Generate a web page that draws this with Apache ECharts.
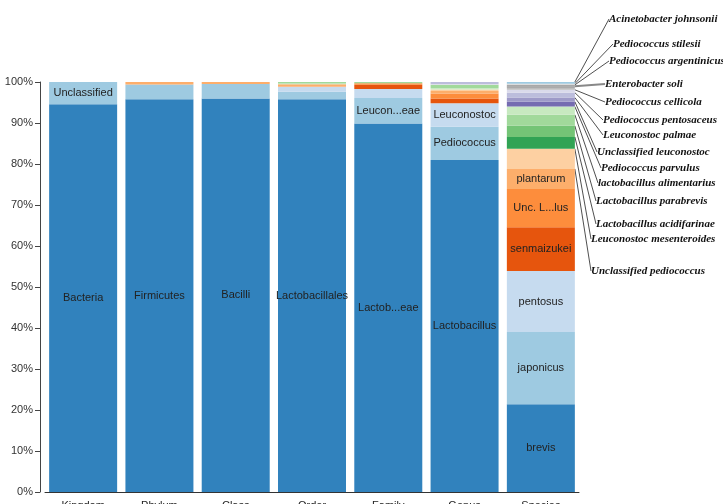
<!DOCTYPE html>
<html>
<head>
<meta charset="utf-8">
<script src="https://cdn.jsdelivr.net/npm/echarts@6/dist/echarts.min.js"></script>
<style>
  html, body { margin: 0; padding: 0; background: #fff; }
  #main { width: 723px; height: 504px; }
</style>
</head>
<body>
<div id="main"></div>
<script>
// taxonomy levels (x axis)
var categories = ["Kingdom", "Phylum", "Class", "Order", "Family", "Genus", "Species"];

// each level: segment names / relative abundance (%), bottom to top
// an empty name means the segment is not labelled
var kingdomNames = ["Bacteria", "Unclassified"];
var kingdomValues = [94.6, 5.4];

var phylumNames = ["Firmicutes", "", ""];
var phylumValues = [95.8, 3.6, 0.6];

var classNames = ["Bacilli", "", ""];
var classValues = [96.0, 3.5, 0.5];

var orderNames = ["Lactobacillales", "", "", "", "", ""];
var orderValues = [95.8, 1.85, 1.2, 0.6, 0.2, 0.35];

var familyNames = ["Lactob...eae", "Leucon...eae", "", "", "", ""];
var familyValues = [89.9, 6.2, 2.2, 1.0, 0.4, 0.3];

var genusNames = ["Lactobacillus", "Pediococcus", "Leuconostoc", "", "", "", "", "", "", "", ""];
var genusValues = [81.0, 8.1, 5.7, 1.2, 1.2, 0.6, 0.4, 0.3, 0.8, 0.2, 0.5];

var speciesNames = ["brevis", "japonicus", "pentosus", "senmaizukei", "Unc. L...lus", "plantarum",
  "Unclassified pediococcus", "Leuconostoc mesenteroides", "Lactobacillus acidifarinae",
  "Lactobacillus parabrevis", "lactobacillus alimentarius", "Pediococcus parvulus",
  "Unclassified leuconostoc", "Leuconostoc palmae", "Pediococcus pentosaceus",
  "Pediococcus cellicola", "Enterobacter soli", "Pediococcus argentinicus",
  "Pediococcus stilesii", "Acinetobacter johnsonii"];
var speciesValues = [21.4, 17.6, 14.9, 10.7, 9.3, 4.9, 4.9, 2.9, 2.7, 2.7, 2.0, 1.2, 1.0, 1.2,
  0.7, 0.5, 0.35, 0.35, 0.3, 0.4];
// species from this index on are labelled outside the bar
var speciesOutsideFrom = 6;

var yTicks = [0, 10, 20, 30, 40, 50, 60, 70, 80, 90, 100];

// ---- styles ----
var kingdomColors = ["#3182bd", "#9ecae1"];
var phylumColors = ["#3182bd", "#9ecae1", "#fdae6b"];
var classColors = ["#3182bd", "#9ecae1", "#fdae6b"];
var orderColors = ["#3182bd", "#9ecae1", "#c6dbef", "#fdae6b", "#c7e9c0", "#a1d99b"];
var familyColors = ["#3182bd", "#9ecae1", "#c6dbef", "#e6550d", "#fd8d3c", "#a1d99b"];
var genusColors = ["#3182bd", "#9ecae1", "#c6dbef", "#e6550d", "#fd8d3c", "#fdae6b", "#fdd0a2",
  "#c7e9c0", "#a1d99b", "#dadaeb", "#bcbddc"];
var speciesColors = ["#3182bd", "#9ecae1", "#c6dbef", "#e6550d", "#fd8d3c", "#fdae6b", "#fdd0a2",
  "#31a354", "#74c476", "#a1d99b", "#c7e9c0", "#756bb1", "#9e9ac8", "#bcbddc", "#dadaeb",
  "#bdbdbd", "#969696", "#a8a8a8", "#d9d9d9", "#9ecae1"];
// pixel positions [x, y] of the outside species labels (same order as names above)
var outsideLabelPos = [
  [591, 271], [591, 239], [596, 224], [596, 201], [598, 183], [601, 168], [597, 152],
  [603, 135], [603, 120], [605, 102], [605, 84], [609, 61], [613, 44], [609, 19]
];

var sansFont = "'Liberation Sans', Arial, sans-serif";
var serifFont = "'Liberation Serif', 'Times New Roman', serif";

window.onload = function () {
  var chart = echarts.init(document.getElementById("main"));

  var levels = [
    { names: kingdomNames, values: kingdomValues, colors: kingdomColors },
    { names: phylumNames, values: phylumValues, colors: phylumColors },
    { names: classNames, values: classValues, colors: classColors },
    { names: orderNames, values: orderValues, colors: orderColors },
    { names: familyNames, values: familyValues, colors: familyColors },
    { names: genusNames, values: genusValues, colors: genusColors },
    { names: speciesNames, values: speciesValues, colors: speciesColors }
  ];
  var maxLen = 0;
  levels.forEach(function (l) { maxLen = Math.max(maxLen, l.values.length); });
  var speciesIdx = categories.indexOf("Species");

  var series = [];
  for (var i = 0; i < maxLen; i++) {
    var data = levels.map(function (l, ci) {
      if (i >= l.values.length) return "-";
      var item = {
        value: l.values[i],
        name: l.names[i],
        itemStyle: { color: l.colors[i] },
        label: { show: !!l.names[i] }
      };
      if (ci === speciesIdx && i >= speciesOutsideFrom) {
        //柱子外侧的物种标签 + 引线
        item.label = {
          show: true,
          position: "right",
          color: "#111",
          fontFamily: serifFont,
          fontStyle: "italic",
          fontWeight: "bold",
          fontSize: 11
        };
        item.labelLine = {
          show: true,
          lineStyle: {
            color: l.names[i] === "Enterobacter soli" ? "#888" : "#222",
            width: l.names[i] === "Enterobacter soli" ? 2 : 0.8
          }
        };
      }
      return item;
    });
    series.push({
      type: "bar",
      stack: "taxa",
      barWidth: 68,
      animation: false,
      data: data,
      label: {
        show: false,
        position: "inside",
        formatter: "{b}",
        color: "#222",
        fontSize: 11,
        fontFamily: sansFont
      },
      labelLayout: (function (level) {
        return function (params) {
          if (params.dataIndex === speciesIdx && level >= speciesOutsideFrom) {
            var p = outsideLabelPos[level - speciesOutsideFrom];
            return { x: p[0], y: p[1], align: "left", verticalAlign: "middle" };
          }
        };
      })(i),
      emphasis: { disabled: true }
    });
  }

  var option = {
    animation: false,
    grid: {
      left: 45,
      right: 144,
      top: 82,
      bottom: 12,
      containLabel: false,
      outerBoundsMode: "none"
    },
    xAxis: {
      type: "category",
      data: categories,
      axisLine: { lineStyle: { color: "#333", width: 1 } },
      axisTick: { alignWithLabel: true, length: 5, lineStyle: { color: "#333" } },
      axisLabel: { color: "#222", fontSize: 11, fontFamily: sansFont, margin: 8 }
    },
    yAxis: {
      type: "value",
      min: yTicks[0],
      max: yTicks[yTicks.length - 1],
      interval: yTicks[1] - yTicks[0],
      offset: 5,
      splitLine: { show: false },
      axisLine: { show: true, lineStyle: { color: "#444", width: 1 } },
      axisTick: { show: true, length: 5, lineStyle: { color: "#444" } },
      axisLabel: {
        formatter: "{value}%",
        color: "#333",
        fontSize: 11,
        fontFamily: sansFont,
        margin: 7
      }
    },
    series: series
  };
  chart.setOption(option);
  window.onresize = function () {
    chart.resize();
  };
};
</script>
</body>
</html>
